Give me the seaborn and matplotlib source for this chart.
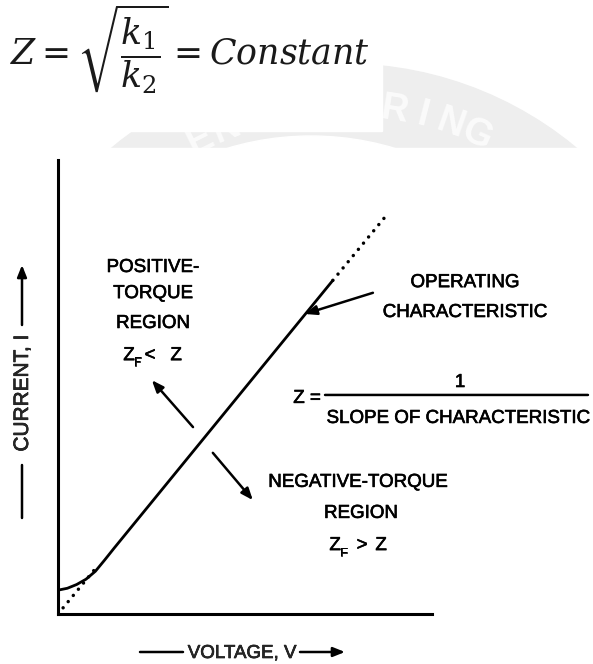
import matplotlib
matplotlib.use("Agg")
import matplotlib.pyplot as plt
import matplotlib.patheffects as pe
import seaborn as sns
import numpy as np
from matplotlib.patches import Circle, Rectangle

# Operating characteristic of an impedance relay (current vs voltage)
voltage = [0.0, 0.25, 0.5, 0.75, 1.0, 1.25, 1.5, 7.35]
current = [0.63, 0.68, 0.78, 0.92, 1.13, 1.43, 1.74, 8.82]
# Ideal line I = V / Z through the origin, shown dotted where it leaves the curve
ideal_low_v = [0.0, 1.0]
ideal_low_i = [0.0, 1.2]
ideal_high_v = [7.35, 8.8]
ideal_high_i = [8.82, 10.56]

W, H = 593, 664
sns.set_theme(style="white")
plt.rcParams["font.family"] = ["Liberation Sans", "DejaVu Sans"]
plt.rcParams["mathtext.fontset"] = "dejavuserif"

fig = plt.figure(figsize=(W / 100, H / 100), dpi=100)
heavy = [pe.withStroke(linewidth=0.45, foreground="black")]

# ---- background layer in pixel units (emblem, header, axis captions) ----
bg = fig.add_axes([0, 0, 1, 1])
bg.set_xlim(0, W)
bg.set_ylim(H, 0)
bg.axis("off")

cx, cy = 344, 427
bg.add_patch(Circle((cx, cy), 363, color="#eeeeee", zorder=0))
bg.add_patch(Circle((311, 427), 291, color="white", zorder=0.5))
for i, ch in enumerate("ENGINEERING"):
    a = np.deg2rad(-26.6 + i * 5.1)
    r = 321
    bg.text(cx + r * np.sin(a), cy - r * np.cos(a), ch, rotation=-np.rad2deg(a),
            ha="center", va="center", fontsize=27, fontweight="bold",
            color="#fbfbfb", zorder=0.6)
bg.add_patch(Rectangle((0, 148), W, H - 148, color="white", zorder=1))
bg.add_patch(Rectangle((0, 0), 382, 131, color="white", zorder=1))

bg.text(10, 65, r"$Z = \sqrt{\dfrac{k_1}{k_2}} = Constant$", fontsize=25,
        ha="left", va="baseline", color="#1a1a1a", zorder=3)

arrow_kw = dict(arrowstyle="-|>,head_length=0.5,head_width=0.2", color="black",
                lw=1.8, shrinkA=0, shrinkB=0, mutation_scale=14)
line_kw = dict(arrowstyle="-", color="black", lw=1.8, shrinkA=0, shrinkB=0)

bg.text(242, 658, "VOLTAGE, V", fontsize=13.5, ha="center", va="baseline",
        zorder=3, path_effects=heavy)
bg.annotate("", xy=(183, 652), xytext=(140, 652), arrowprops=line_kw, zorder=3)
bg.annotate("", xy=(345, 652), xytext=(300, 652), arrowprops=arrow_kw, zorder=3)

bg.text(22.5, 393, "CURRENT, I", fontsize=15, rotation=90, ha="center", va="center",
        zorder=3, path_effects=heavy)
bg.annotate("", xy=(22, 465), xytext=(22, 518), arrowprops=line_kw, zorder=3)
bg.annotate("", xy=(22, 265), xytext=(22, 325), arrowprops=arrow_kw, zorder=3)

# ---- main characteristic axes ----
ax = fig.add_axes([58 / W, 1 - 614 / H, 374 / W, 454 / H], zorder=2)
ax.set_facecolor("none")
ax.set_xlim(0, 10)
ax.set_ylim(0, 12)

sns.lineplot(x=voltage, y=current, ax=ax, color="black", lw=2.0,
             sort=False, estimator=None)
for vv, ii in [(ideal_low_v, ideal_low_i), (ideal_high_v, ideal_high_i)]:
    sns.lineplot(x=vv, y=ii, ax=ax, color="black", lw=2.5, sort=False,
                 estimator=None, linestyle=(0, (0.01, 2.3)), dash_capstyle="round")

ax.set_xticks([])
ax.set_yticks([])
ax.set_xlabel("")
ax.set_ylabel("")
for side in ("top", "right"):
    ax.spines[side].set_visible(False)
for side in ("left", "bottom"):
    ax.spines[side].set_color("black")
    ax.spines[side].set_linewidth(2.2)

fs = 13.5
tk = dict(fontsize=fs, ha="center", va="baseline", color="black", path_effects=heavy)
sub = {**tk, "fontsize": 9}
# positive-torque region
ax.text(2.54, 9.04, "POSITIVE-", **tk)
ax.text(2.54, 8.35, "TORQUE", **tk)
ax.text(2.54, 7.56, "REGION", **tk)
ax.text(1.90, 6.71, "Z", **tk)
ax.text(2.12, 6.56, "F", **sub)
ax.text(2.46, 6.71, "<", **tk)
ax.text(3.16, 6.71, "Z", **tk)
ax.annotate("", xy=(2.51, 6.18), xytext=(3.61, 4.94), arrowprops=arrow_kw)

# negative-torque region
ax.text(8.02, 3.36, "NEGATIVE-TORQUE", **tk)
ax.text(8.10, 2.54, "REGION", **tk)
ax.text(7.41, 1.69, "Z", **tk)
ax.text(7.65, 1.53, "F", **sub)
ax.text(8.13, 1.69, ">", **tk)
ax.text(8.64, 1.69, "Z", **tk)
ax.annotate("", xy=(5.21, 3.01), xytext=(4.14, 4.26), arrowprops=arrow_kw)

# operating characteristic callout
ax.text(10.88, 8.64, "OPERATING", **tk)
ax.text(10.88, 7.85, "CHARACTERISTIC", **tk)
ax.annotate("", xy=(6.6, 7.93), xytext=(8.42, 8.49), arrowprops=arrow_kw)

# Z = 1 / slope
ax.text(6.66, 5.58, "Z =", **tk)
ax.text(10.75, 6.00, "1", **tk)
ax.annotate("", xy=(14.17, 5.79), xytext=(7.14, 5.79), arrowprops=line_kw,
            annotation_clip=False)
ax.text(10.70, 5.05, "SLOPE OF CHARACTERISTIC", **tk)

fig.savefig("out.png", dpi=100)
